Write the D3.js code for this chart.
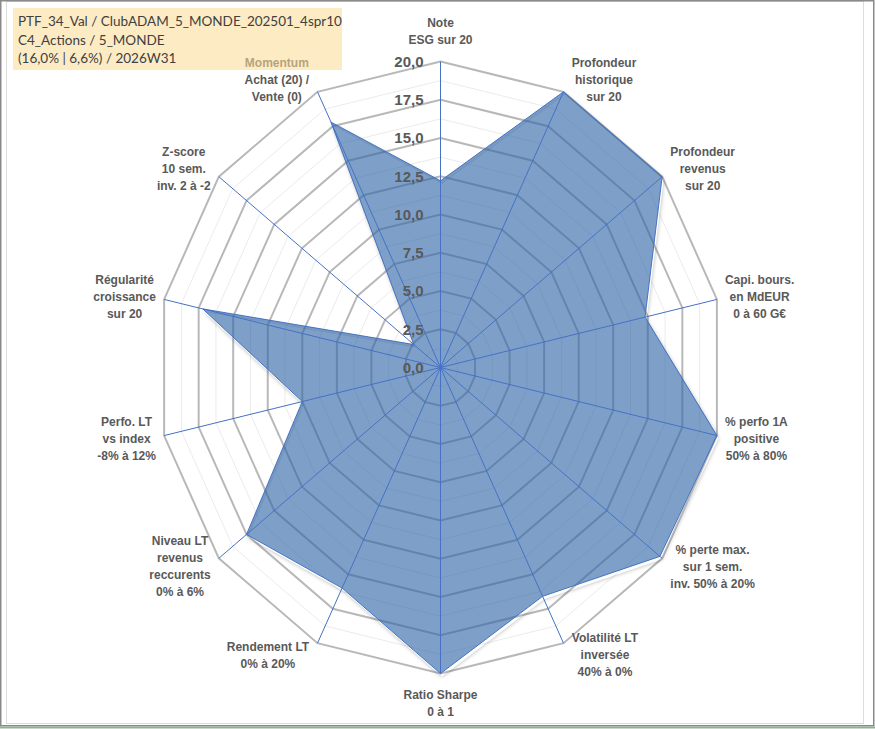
<!DOCTYPE html>
<html>
<head>
<meta charset="utf-8">
<script src="https://cdn.jsdelivr.net/npm/d3@7"></script>
<style>
  body { margin: 0; background: #fff; }
</style>
</head>
<body>
<div id="chart"></div>
<script>
const axisLabels = [
  ["Note", "ESG sur 20"],
  ["Profondeur", "historique", "sur 20"],
  ["Profondeur", "revenus", "sur 20"],
  ["Capi. bours.", "en MdEUR", "0 à 60 G€"],
  ["% perfo 1A", "positive", "50% à 80%"],
  ["% perte max.", "sur 1 sem.", "inv. 50% à 20%"],
  ["Volatilité LT", "inversée", "40% à 0%"],
  ["Ratio Sharpe", "0 à 1"],
  ["Rendement LT", "0% à 20%"],
  ["Niveau LT", "revenus", "reccurents", "0% à 6%"],
  ["Perfo. LT", "vs index", "-8% à 12%"],
  ["Régularité", "croissance", "sur 20"],
  ["Z-score", "10 sem.", "inv. 2 à -2"],
  ["Momentum", "Achat (20) /", "Vente (0)"]
];

const scores = [12.2, 20, 20, 14.8, 20, 19.8, 16.6, 20, 16.0, 17.5, 10.0, 17.2, 2.4, 17.8];

const majorTicks = [0, 2.5, 5, 7.5, 10, 12.5, 15, 17.5, 20];
const minorTicks = [1.25, 3.75, 6.25, 8.75, 11.25, 13.75, 16.25, 18.75];

const titleLines = [
  "PTF_34_Val / ClubADAM_5_MONDE_202501_4spr10",
  "C4_Actions / 5_MONDE",
  "(16,0% | 6,6%) / 2026W31"
];

const width = 875;
const height = 729;
const cx = 440.5;
const cy = 367.5;
const n = axisLabels.length;

// l'image source est un peu écrasée en largeur : deux rayons
const rX = d3.scaleLinear().domain([0, 20]).range([0, 283.5]);
const rY = d3.scaleLinear().domain([0, 20]).range([0, 306]);
const angle = d3.scaleLinear().domain([0, n]).range([0, 2 * Math.PI]);

function pt(i, v) {
  const a = angle(i);
  return [cx + rX(v) * Math.sin(a), cy - rY(v) * Math.cos(a)];
}

const ring = d3.line().curve(d3.curveLinearClosed);
const ringPath = v => ring(d3.range(n).map(i => pt(i, v)));

const svg = d3.select("#chart")
  .append("svg")
  .attr("width", width)
  .attr("height", height)
  .style("display", "block");

const defs = svg.append("defs");
defs.append("filter")
  .attr("id", "blur")
  .attr("x", "-10%").attr("y", "-10%")
  .attr("width", "120%").attr("height", "120%")
  .append("feGaussianBlur")
  .attr("stdDeviation", 2.2);

const seriesPath = ring(scores.map((v, i) => pt(i, v)));

const mask = defs.append("mask").attr("id", "outside");
mask.append("rect").attr("width", width).attr("height", height).attr("fill", "#fff");
mask.append("path").attr("d", seriesPath).attr("fill", "#000");

// grille
const grid = svg.append("g");
grid.selectAll(".minor")
  .data(minorTicks)
  .enter()
  .append("path")
  .attr("d", ringPath)
  .attr("fill", "none")
  .attr("stroke", "#ebebeb")
  .attr("stroke-width", 1);

grid.selectAll(".major")
  .data(majorTicks.filter(d => d > 0))
  .enter()
  .append("path")
  .attr("d", ringPath)
  .attr("fill", "none")
  .attr("stroke", "#b8b8b8")
  .attr("stroke-width", 2);

// ombre + surface
svg.append("path")
  .attr("d", seriesPath)
  .attr("transform", "translate(1.5,3)")
  .attr("fill", "#000")
  .attr("opacity", 0.3)
  .attr("filter", "url(#blur)")
  .attr("mask", "url(#outside)");

svg.append("path")
  .attr("d", seriesPath)
  .attr("fill", "#2e66a6")
  .attr("fill-opacity", 0.62)
  .attr("stroke", "#4472c4")
  .attr("stroke-width", 1);

// rayons
svg.append("g")
  .selectAll("line")
  .data(d3.range(n))
  .enter()
  .append("line")
  .attr("x1", cx)
  .attr("y1", cy)
  .attr("x2", i => pt(i, 20)[0])
  .attr("y2", i => pt(i, 20)[1])
  .attr("stroke", "#4472c4")
  .attr("stroke-width", 1);

// graduations
svg.append("g")
  .selectAll("text")
  .data(majorTicks)
  .enter()
  .append("text")
  .attr("x", cx - 17)
  .attr("y", d => pt(0, d)[1])
  .attr("dy", "0.36em")
  .attr("text-anchor", "end")
  .style("font-family", "'Liberation Sans', Arial, sans-serif")
  .style("font-size", "15px")
  .style("font-weight", "bold")
  .style("fill", "#595959")
  .text(d => d3.format(".1f")(d).replace(".", ","));

// étiquettes des axes
const lineH = 17;
const labels = svg.append("g")
  .style("font-family", "'Liberation Sans', Arial, sans-serif")
  .style("font-size", "12px")
  .style("font-weight", "bold")
  .style("fill", "#595959");

axisLabels.forEach((lines, i) => {
  const a = angle(i);
  const [vx, vy] = pt(i, 20);
  const s = Math.sin(a), c = Math.cos(a);
  const h = lines.length * lineH;
  const t = labels.append("text").attr("text-anchor", "middle");
  lines.forEach((ln, k) => {
    t.append("tspan").attr("x", 0).attr("y", (k - (lines.length - 1) / 2) * lineH).attr("dy", "0.35em").text(ln);
  });
  const w = t.node().getBBox().width;
  let bx, by;
  if (Math.abs(s) < 0.01) {
    bx = vx;
    by = vy - Math.sign(c) * (h / 2 + 13);
  } else {
    bx = vx + Math.sign(s) * (8 + w / 2);
    by = vy - c * 13;
  }
  t.attr("transform", `translate(${bx},${by})`);
});

// cadre du titre (semi-transparent, recouvre "Momentum")
svg.append("rect")
  .attr("x", 13)
  .attr("y", 8)
  .attr("width", 329)
  .attr("height", 62)
  .attr("fill", "#fbdc97")
  .attr("fill-opacity", 0.57);

svg.append("g")
  .selectAll("text")
  .data(titleLines)
  .enter()
  .append("text")
  .attr("x", 18)
  .attr("y", (d, i) => 26 + i * 18.5)
  .style("font-family", "Lato, 'Open Sans', sans-serif")
  .style("font-size", "13.5px")
  .style("fill", "#404040")
  .text(d => d);

// bordures
svg.append("rect")
  .attr("x", 6.5).attr("y", 1.5)
  .attr("width", 857).attr("height", 722)
  .attr("fill", "none")
  .attr("stroke", "#dcdcdc");

svg.append("rect")
  .attr("x", 0.75).attr("y", 0.75)
  .attr("width", 873).attr("height", 725)
  .attr("fill", "none")
  .attr("stroke", "#8a8a8a")
  .attr("stroke-width", 1.5);

svg.append("line")
  .attr("x1", 0).attr("x2", width)
  .attr("y1", 727.5).attr("y2", 727.5)
  .attr("stroke", "#8fb58f")
  .attr("stroke-width", 2);
</script>
</body>
</html>
